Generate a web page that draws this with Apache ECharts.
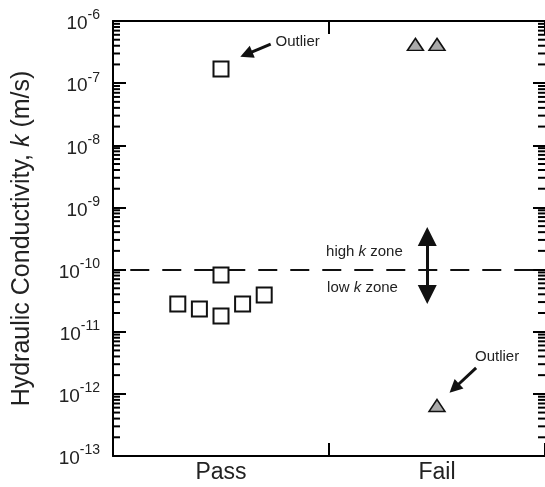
<!DOCTYPE html>
<html>
<head>
<meta charset="utf-8">
<script src="https://cdn.jsdelivr.net/npm/echarts@6/dist/echarts.min.js"></script>
<style>html,body{margin:0;padding:0;background:#fff}#c{width:545px;height:487px}</style>
</head>
<body>
<div id="c"></div>
<script>
// ---- data ----
const categories = ['Pass', 'Fail'];
const passX = [0.3, 0.4, 0.5, 0.5, 0.5, 0.6, 0.7];
const passK = [2.79e-11, 2.32e-11, 1.79e-11, 8.2e-11, 1.69e-7, 2.79e-11, 3.9e-11];
const failX = [1.4, 1.5, 1.5];
const failK = [4.2e-7, 4.2e-7, 6.5e-13];
const yTickExponents = ['-13', '-12', '-11', '-10', '-9', '-8', '-7', '-6'];
const minorMantissas = [2, 3, 4, 5, 6, 7, 8, 9];
const thresholdK = 1e-10;

const FONT = 'Liberation Sans, Arial, sans-serif';
const minorData = [];
for (let e = -13; e < -6; e++) {
  minorMantissas.forEach(m => minorData.push([0, m * Math.pow(10, e)]));
}

const chart = echarts.init(document.getElementById('c'), null, {renderer: 'canvas'});
const axisLine = {show: true, lineStyle: {color: '#000', width: 2}};

const option = {
  animation: false,
  backgroundColor: '#fff',
  grid: {left: 113, right: -1, top: 21, bottom: 31, containLabel: false},
  xAxis: [
    {
      type: 'category', data: categories, position: 'bottom', boundaryGap: true,
      axisLine: axisLine,
      axisTick: {show: true, inside: true, length: 13, lineStyle: {width: 2, color: '#000'}},
      axisLabel: {color: '#222', fontFamily: FONT, fontSize: 23, margin: 5},
      splitLine: {show: false}
    },
    {
      type: 'category', data: categories, position: 'top', boundaryGap: true,
      axisLine: axisLine,
      axisTick: {show: true, inside: true, length: 13, lineStyle: {width: 2, color: '#000'}},
      axisLabel: {show: false},
      splitLine: {show: false}
    },
    {type: 'value', min: 0, max: 2, show: false}
  ],
  yAxis: [
    {
      type: 'log', logBase: 10, min: 1e-13, max: 1e-6, splitNumber: 7, interval: 1,
      position: 'left',
      axisLine: axisLine,
      axisTick: {show: true, inside: true, length: 13, lineStyle: {width: 2, color: '#000'}},
      splitLine: {show: false},
      axisLabel: {
        margin: 13, color: '#222', fontFamily: FONT,
        formatter: function (v) {
          const e = Math.round(Math.log10(v));
          const lbl = yTickExponents.find(s => Number(s) === e) || String(e);
          return '{b|10}{s|' + lbl + '}';
        },
        rich: {
          b: {fontSize: 19, fontFamily: FONT, color: '#222', lineHeight: 25, verticalAlign: 'bottom'},
          s: {fontSize: 14, fontFamily: FONT, color: '#222', lineHeight: 15, verticalAlign: 'top'}
        }
      },
      name: '{n|Hydraulic Conductivity, }{i|k}{n| (m/s)}',
      nameLocation: 'middle', nameGap: 78, nameRotate: 90,
      nameTextStyle: {
        rich: {
          n: {fontSize: 25, fontFamily: FONT, color: '#222'},
          i: {fontSize: 25, fontFamily: FONT, color: '#222', fontStyle: 'italic'}
        }
      }
    },
    {
      type: 'log', logBase: 10, min: 1e-13, max: 1e-6, splitNumber: 7, interval: 1,
      position: 'right',
      axisLine: {show: false},
      axisTick: {show: true, inside: true, length: 12, lineStyle: {width: 2, color: '#000'}},
      axisLabel: {show: false},
      splitLine: {show: false}
    }
  ],
  series: [
    {
      type: 'custom', xAxisIndex: 2, yAxisIndex: 0, silent: true, z: 1,
      data: minorData,
      encode: {x: 0, y: 1},
      renderItem: function (params, api) {
        const v = api.value(1);
        const pL = api.coord([0, v]);
        const pR = api.coord([2, v]);
        return {
          type: 'group',
          children: [
            {type: 'line', shape: {x1: pL[0], y1: pL[1], x2: pL[0] + 7, y2: pL[1]}, style: {stroke: '#000', lineWidth: 2}},
            {type: 'line', shape: {x1: pR[0], y1: pR[1], x2: pR[0] - 7, y2: pR[1]}, style: {stroke: '#000', lineWidth: 2}}
          ]
        };
      }
    },
    {
      name: 'Pass', type: 'scatter', xAxisIndex: 2, yAxisIndex: 0, z: 5,
      symbol: 'rect', symbolSize: 15,
      itemStyle: {color: '#fff', borderColor: '#111', borderWidth: 2, opacity: 1},
      data: passX.map((x, i) => [x, passK[i]]),
      markLine: {
        silent: true, z: 3, symbol: ['none', 'none'],
        label: {show: false},
        lineStyle: {color: '#111', width: 2, type: [19, 13]},
        data: [[{coord: [0.08, thresholdK]}, {coord: [2, thresholdK]}]]
      }
    },
    {
      name: 'Fail', type: 'scatter', xAxisIndex: 2, yAxisIndex: 0, z: 5,
      symbol: 'triangle', symbolSize: [16, 12],
      itemStyle: {color: '#aaaaaa', borderColor: '#111', borderWidth: 1.5, opacity: 1},
      data: failX.map((x, i) => [x, failK[i]])
    },
    {
      name: 'annot', type: 'scatter', xAxisIndex: 2, yAxisIndex: 0, z: 6,
      symbolSize: 0, data: [],
      markLine: {
        silent: true, z: 6, animation: false,
        label: {show: false},
        data: [
          [
            {coord: [0.730, 4.26e-7], symbol: 'none'},
            {coord: [0.617, 2.91e-7], symbol: 'triangle', symbolSize: 13}
          ],
          [
            {coord: [1.681, 2.61e-12], symbol: 'none'},
            {coord: [1.580, 1.23e-12], symbol: 'triangle', symbolSize: 13}
          ],
          [
            {coord: [1.455, 3.40e-10], symbol: 'triangle', symbolSize: 19},
            {coord: [1.455, 3.97e-11], symbol: 'triangle', symbolSize: 19}
          ]
        ],
        lineStyle: {color: '#111', width: 3, type: 'solid'},
        itemStyle: {color: '#111'}
      },
      markPoint: {
        silent: true, symbol: 'circle', symbolSize: 1,
        itemStyle: {color: 'rgba(0,0,0,0)'},
        label: {
          show: true, position: 'inside', color: '#222', fontFamily: FONT, fontSize: 15,
          rich: {
            n: {fontSize: 15, fontFamily: FONT, color: '#222'},
            i: {fontSize: 15, fontFamily: FONT, color: '#222', fontStyle: 'italic'}
          }
        },
        data: [
          {coord: [0.855, 4.59e-7], label: {formatter: 'Outlier'}},
          {coord: [1.778, 3.92e-12], label: {formatter: 'Outlier'}},
          {coord: [1.164, 1.92e-10], label: {formatter: '{n|high }{i|k}{n| zone}'}},
          {coord: [1.155, 5.05e-11], label: {formatter: '{n|low }{i|k}{n| zone}'}}
        ]
      }
    }
  ]
};
chart.setOption(option);
</script>
</body>
</html>
